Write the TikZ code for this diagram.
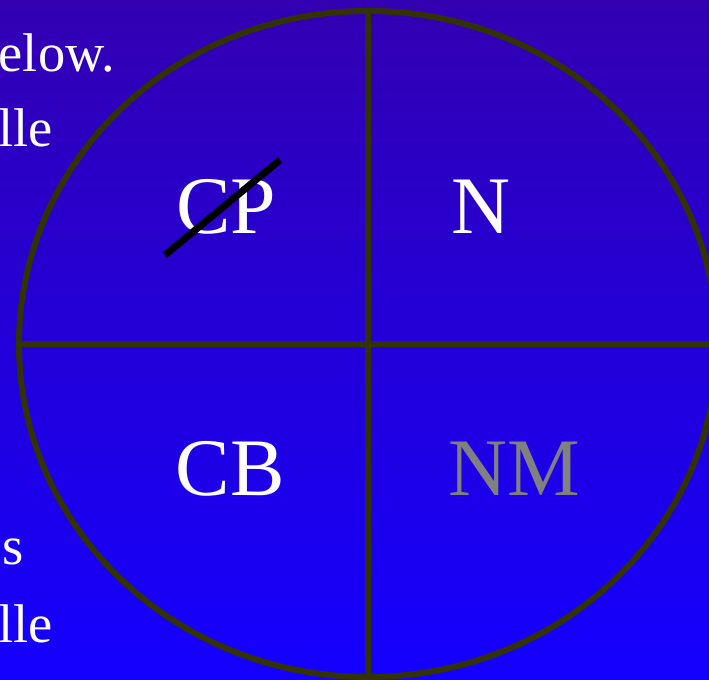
\documentclass[tikz,border=0pt]{standalone}
\usepackage{fontspec}
\setmainfont{Liberation Serif}
\usepackage{xcolor}
\usepackage{tikz}
\definecolor{bgtop}{HTML}{3300B2}
\definecolor{bgbot}{HTML}{1400FF}
\definecolor{rimc}{HTML}{333300}
\definecolor{dimc}{HTML}{808080}
\tikzset{
  rim/.style={draw=rimc, line width=3.4pt},
  quad/.style={font=\fontsize{46.5}{50}\selectfont, text=white, anchor=base, inner sep=0pt},
  side/.style={font=\fontsize{31}{36}\selectfont, text=white, anchor=base east, inner sep=0pt},
  strike/.style={line width=4pt, draw=black},
}
\begin{document}
\begin{tikzpicture}[x=0.02cm, y=0.02cm]
  \useasboundingbox (0,0) rectangle (709,679);
  \clip (0,0) rectangle (709,679);
  \shade[top color=bgtop, bottom color=bgbot] (0,0) rectangle (709,679);
  % text running in from the left
  \node[side] (t1) at (115,607) {elow.};
  \node[side] (t2) at (53,532) {lle};
  \node[side] (t3) at (24,114) {s};
  \node[side] (t4) at (53,37) {lle};
  % the wheel
  \coordinate (hub) at (368,335);
  \coordinate (top) at (368,668);
  \coordinate (bot) at (368,2);
  \coordinate (lft) at (19,335);
  \coordinate (rgt) at (717,335);
  \draw[rim] (hub) ellipse [x radius=349, y radius=333];
  \draw[rim] (top) -- (bot);
  \draw[rim] (lft) -- (rgt);
  \node[quad] (cp) at (226,445) {CP};
  \node[quad] (n) at (481,445) {N};
  \node[quad] (cb) at (230,183) {CB};
  \node[quad, text=dimc] (nm) at (514,183) {NM};
  \coordinate (s1) at (165,424);
  \coordinate (s2) at (280,519);
  \draw[strike] (s1) -- (s2);
\end{tikzpicture}
\end{document}
